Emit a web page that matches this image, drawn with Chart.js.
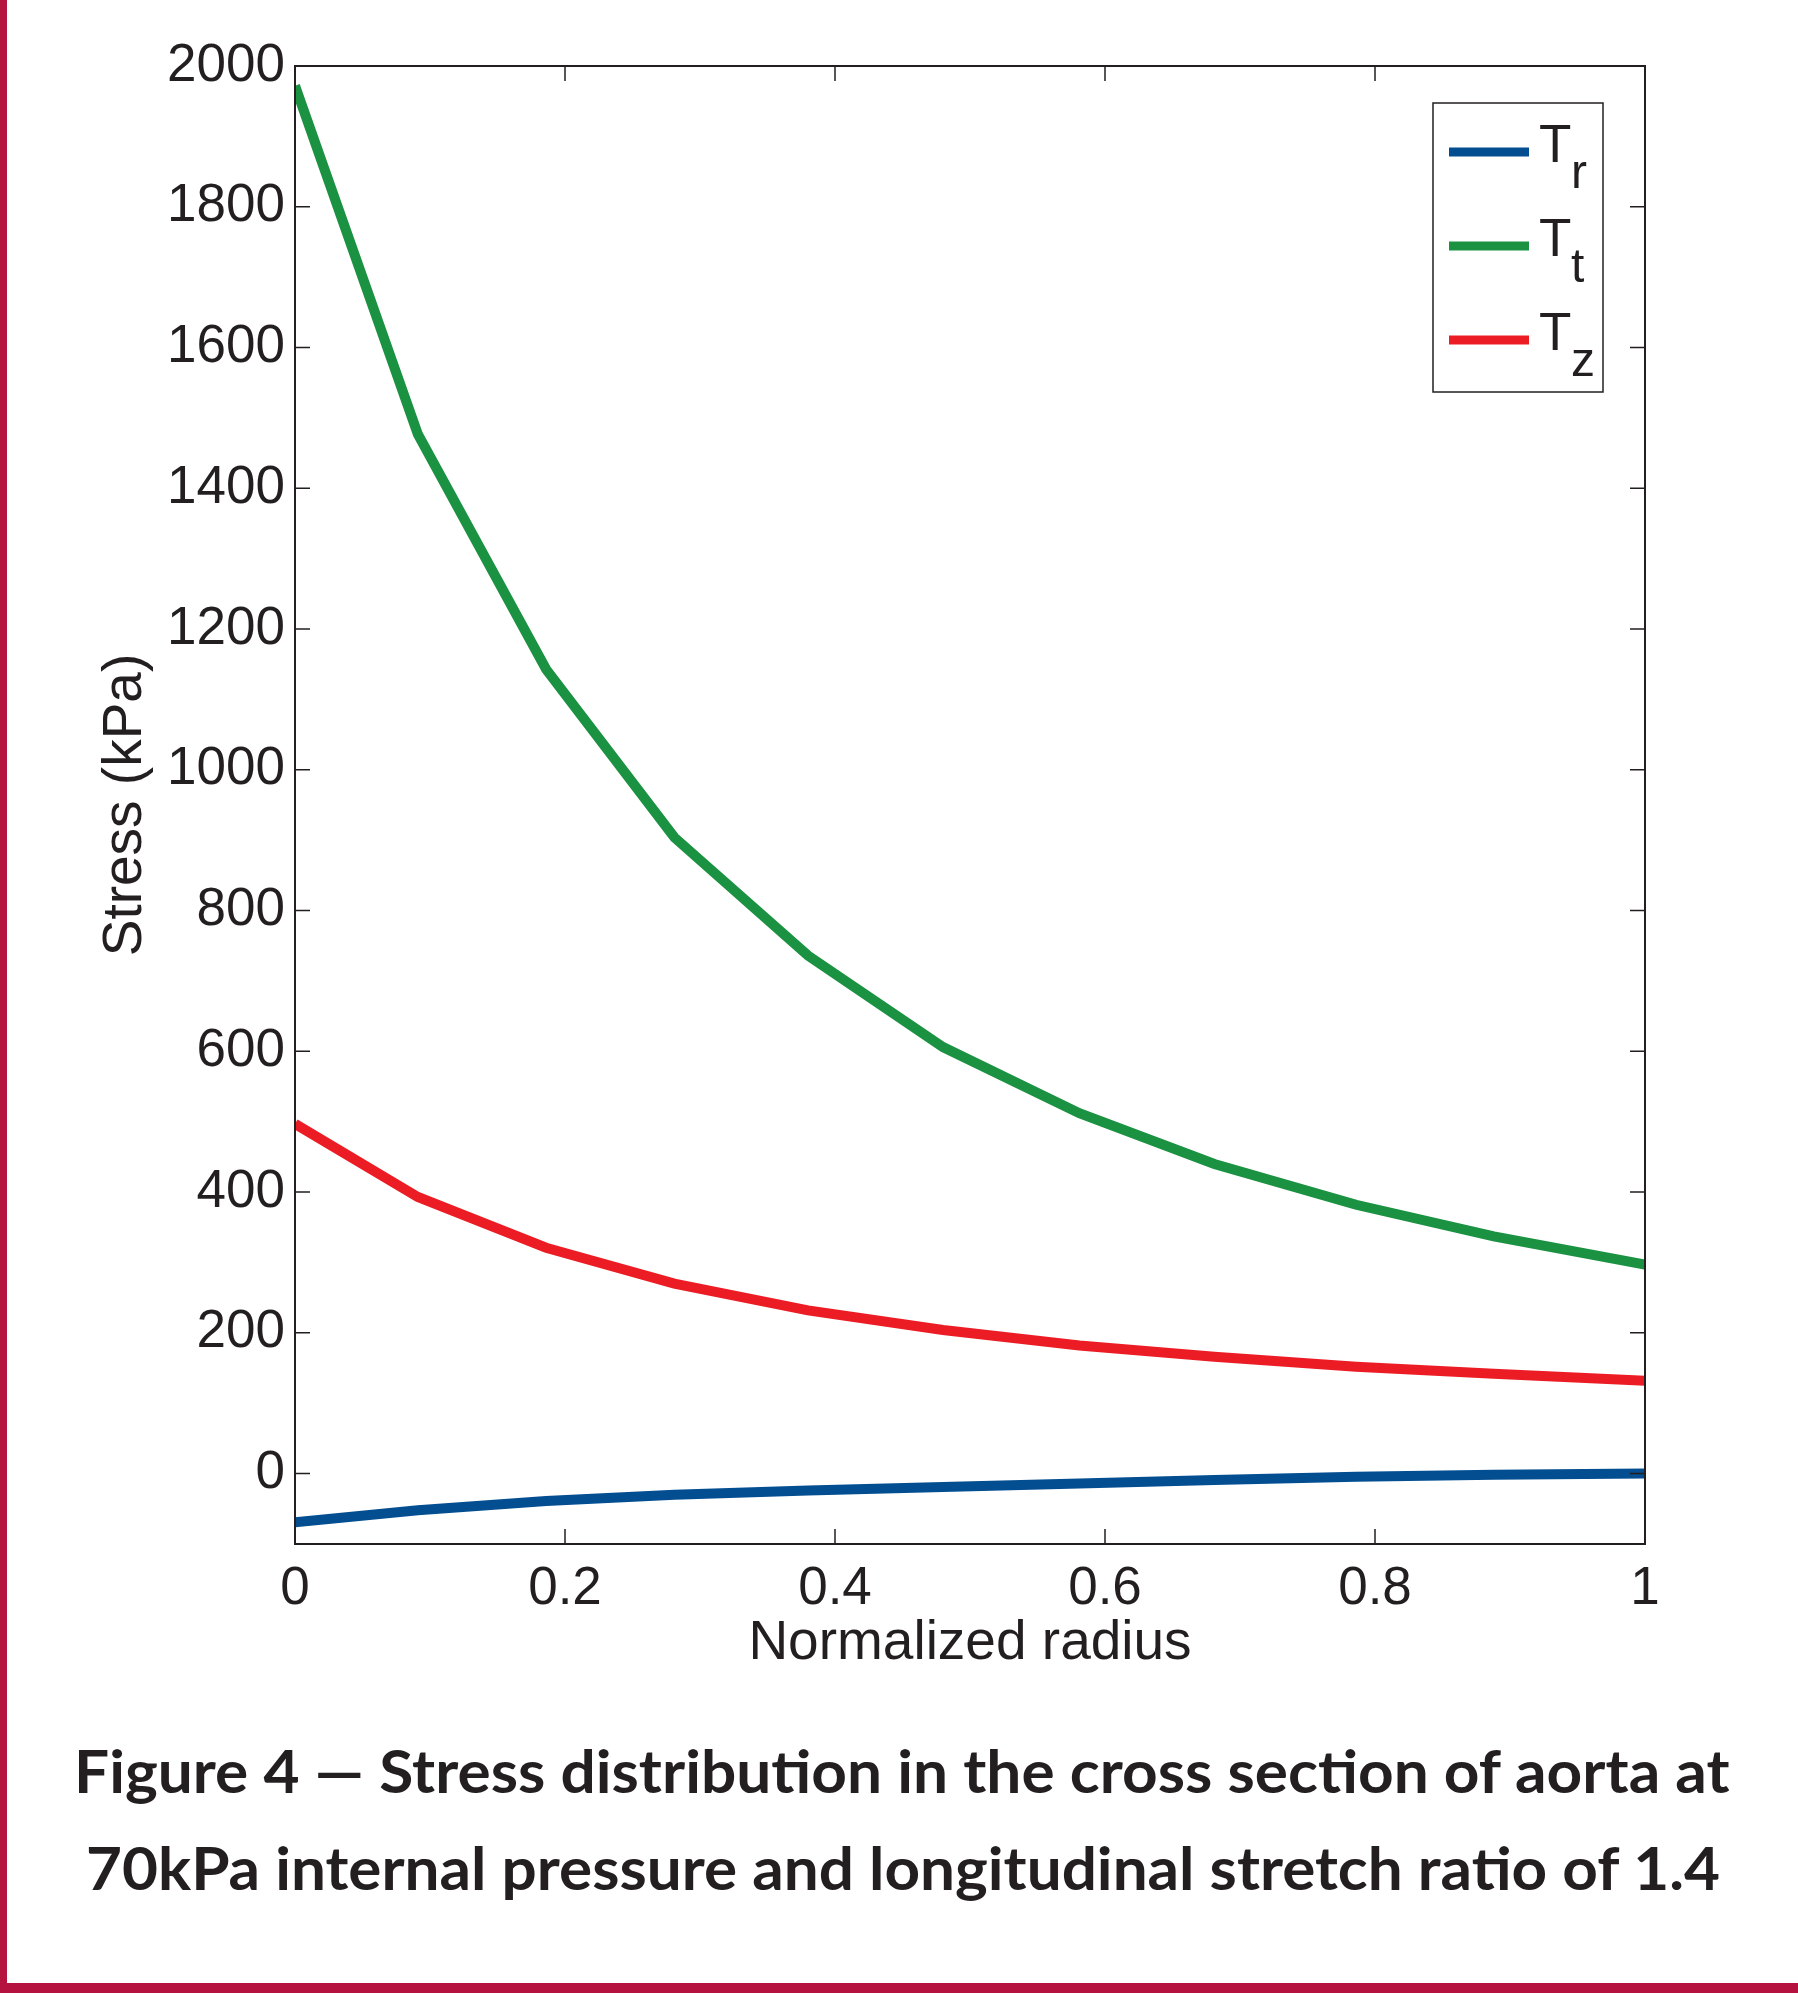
<!DOCTYPE html>
<html>
<head>
<meta charset="utf-8">
<script src="https://cdn.jsdelivr.net/npm/chart.js@4.4.0/dist/chart.umd.min.js"></script>
<style>
  body { margin: 0; width: 1798px; height: 1993px; background: #fff; position: relative; overflow: hidden; }
  #wrap { position: absolute; left: 0; top: 0; width: 1798px; height: 1720px; }
  .cap { position: absolute; white-space: nowrap; font-family: Lato, "Open Sans", sans-serif; font-weight: 700;
         font-size: 60px; line-height: 72px; color: #231F20; transform-origin: 0 0; }
  #borderLeft { position: absolute; left: 0; top: 0; width: 7px; height: 1993px; background: #B5123F; }
  #borderBottom { position: absolute; left: 0; bottom: 0; width: 1798px; height: 10px; background: #B5123F; }
</style>
</head>
<body>
<div id="wrap"><canvas id="myChart"></canvas></div>
<div class="cap" id="cap1">Figure 4 — Stress distribution in the cross section of aorta at</div>
<div class="cap" id="cap2">70kPa internal pressure and longitudinal stretch ratio of 1.4</div>
<div id="borderLeft"></div>
<div id="borderBottom"></div>
<script>
// values
const radius  = [0, 0.091, 0.186, 0.281, 0.380, 0.480, 0.581, 0.681, 0.786, 0.888, 1];
const stressR = [-69, -52, -39, -30, -24, -19, -14, -9, -4.5, -1.7, 0];
const stressT = [1972, 1477, 1143, 904, 736, 606, 512, 440, 382, 337, 297];
const stressZ = [497, 393, 321, 270, 232, 204, 182, 166, 152, 142, 132];

const legendMain = 'T';
const legendSubs = ['r', 't', 'z'];
const seriesColors = ['#034E91', '#1B9142', '#EC1C24'];
const xTickLabels = ['0', '0.2', '0.4', '0.6', '0.8', '1'];

const ink = '#231F20';
Chart.defaults.font.family = '"Liberation Sans", Arial, sans-serif';
Chart.defaults.color = ink;

function toPoints(ys) {
  return radius.map(function (r, i) { return { x: r, y: ys[i] }; });
}

// matlab style box with inward ticks on all four sides
const boxTicks = {
  id: 'boxTicks',
  afterDatasetsDraw(chart) {
    const ctx = chart.ctx, a = chart.chartArea;
    const x = chart.scales.x, y = chart.scales.y;
    const len = 15;
    ctx.save();
    ctx.strokeStyle = ink;
    ctx.lineWidth = 1.5;
    ctx.beginPath();
    y.ticks.forEach(function (t) {
      const py = y.getPixelForValue(t.value);
      ctx.moveTo(a.left, py); ctx.lineTo(a.left + len, py);
      ctx.moveTo(a.right, py); ctx.lineTo(a.right - len, py);
    });
    x.ticks.forEach(function (t) {
      const px = x.getPixelForValue(t.value);
      ctx.moveTo(px, a.bottom); ctx.lineTo(px, a.bottom - len);
      ctx.moveTo(px, a.top); ctx.lineTo(px, a.top + len);
    });
    ctx.stroke();
    ctx.lineWidth = 2;
    ctx.strokeRect(a.left, a.top, a.right - a.left, a.bottom - a.top);
    ctx.restore();
  }
};

// legend box with subscripts
const boxLegend = {
  id: 'boxLegend',
  afterDraw(chart) {
    const ctx = chart.ctx, a = chart.chartArea;
    const w = 170, h = 289;
    const right = a.right - 42, top = a.top + 37;
    const left = right - w;
    ctx.save();
    ctx.fillStyle = '#fff';
    ctx.fillRect(left, top, w, h);
    ctx.strokeStyle = ink;
    ctx.lineWidth = 1.5;
    ctx.strokeRect(left, top, w, h);
    chart.data.datasets.forEach(function (ds, i) {
      const yy = top + 49 + i * 94;
      ctx.strokeStyle = ds.borderColor;
      ctx.lineWidth = 9;
      ctx.beginPath();
      ctx.moveTo(left + 16, yy);
      ctx.lineTo(left + 96, yy);
      ctx.stroke();
      ctx.fillStyle = ink;
      ctx.textBaseline = 'alphabetic';
      ctx.font = '53px "Liberation Sans", Arial';
      ctx.fillText(legendMain, left + 106, yy + 10);
      ctx.font = '48px "Liberation Sans", Arial';
      ctx.fillText(legendSubs[i], left + 138, yy + 36);
    });
    ctx.restore();
  }
};

const ctx = document.getElementById('myChart').getContext('2d');
const myChart = new Chart(ctx, {
  type: 'line',
  data: {
    datasets: [
      { label: legendMain + legendSubs[0], data: toPoints(stressR), borderColor: seriesColors[0] },
      { label: legendMain + legendSubs[1], data: toPoints(stressT), borderColor: seriesColors[1] },
      { label: legendMain + legendSubs[2], data: toPoints(stressZ), borderColor: seriesColors[2] }
    ]
  },
  options: {
    responsive: true,
    maintainAspectRatio: false,
    animation: false,
    layout: { padding: { left: 0, top: 66, right: 153, bottom: 0 } },
    elements: {
      line: { borderWidth: 10, tension: 0, fill: false },
      point: { radius: 0, hoverRadius: 0 }
    },
    plugins: { legend: { display: false }, tooltip: { enabled: false } },
    scales: {
      x: {
        type: 'linear',
        min: 0, max: 1,
        grid: { display: false, drawTicks: false },
        border: { display: false },
        ticks: {
          stepSize: 0.2,
          padding: 14,
          font: { size: 53 },
          color: ink,
          maxRotation: 0,
          callback: function (v, i) { return xTickLabels[i]; }
        },
        title: { display: true, text: 'Normalized radius', font: { size: 55 }, color: ink, padding: { top: 0, bottom: 43 } },
        afterFit: function (s) { s.height = 176; }
      },
      y: {
        min: -100, max: 2000,
        grid: { display: false, drawTicks: false },
        border: { display: false },
        ticks: {
          stepSize: 200,
          includeBounds: false,
          padding: 10,
          font: { size: 53 },
          color: ink,
          callback: function (v) { return String(v); }
        },
        title: { display: true, text: 'Stress (kPa)', font: { size: 55 }, color: ink, padding: { top: 93, bottom: 0 } },
        afterFit: function (s) { s.width = 295; }
      }
    }
  },
  plugins: [boxTicks, boxLegend]
});

// fit the caption lines to the width they take in the figure
function placeCaption(id, top, center, targetWidth) {
  const el = document.getElementById(id);
  const w = el.offsetWidth;
  const k = targetWidth / w;
  el.style.top = top + 'px';
  el.style.left = (center - targetWidth / 2) + 'px';
  el.style.transform = 'scaleX(' + k + ')';
}
placeCaption('cap1', 1734, 902, 1656);
placeCaption('cap2', 1831, 903, 1634);
</script>
</body>
</html>
